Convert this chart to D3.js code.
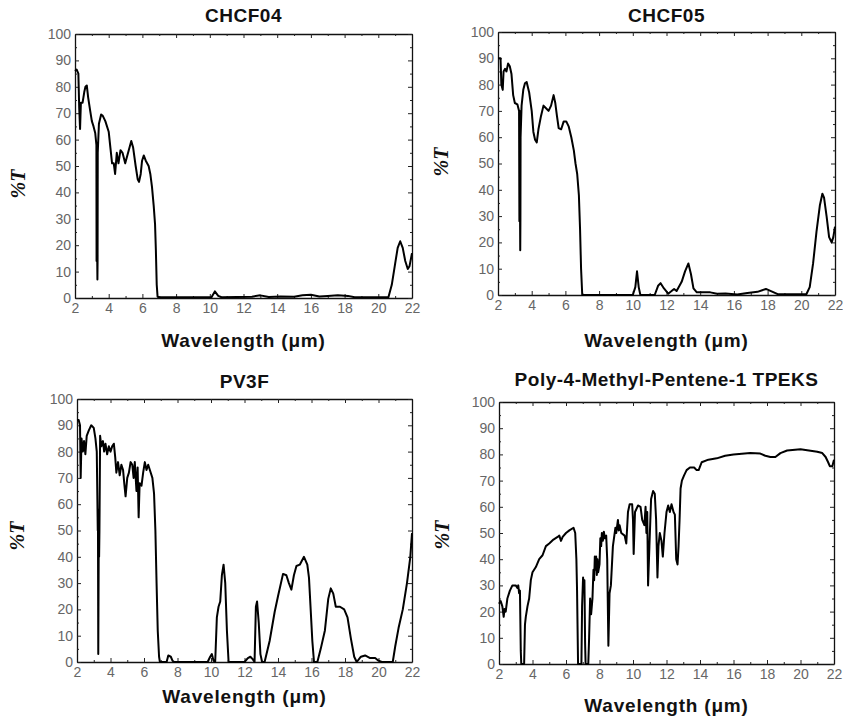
<!DOCTYPE html>
<html>
<head>
<meta charset="utf-8">
<script src="https://cdn.jsdelivr.net/npm/d3@7"></script>
<style>
  body { margin: 0; background: #fff; }
  #chart { width: 843px; height: 719px; }
</style>
</head>
<body>
<div id="chart"></div>
<script>
// tick values shared by every panel
const xTicks = [2, 4, 6, 8, 10, 12, 14, 16, 18, 20, 22];
const xMinor = d3.range(3, 22, 2);
const yTicks = [0, 10, 20, 30, 40, 50, 60, 70, 80, 90, 100];
const yMinor = d3.range(5, 100, 10);

const titles = ["CHCF04", "CHCF05", "PV3F", "Poly-4-Methyl-Pentene-1 TPEKS"];

// [wavelength (um), %T]
const chcf04 = [
  [2.0,86],[2.1,86.5],[2.2,85],[2.25,72],[2.3,64],[2.35,74],[2.45,74],[2.55,78],[2.62,80],[2.7,80.5],[2.78,76],
  [2.9,71],[3.0,67],[3.1,65],[3.2,62.5],[3.27,58],[3.28,14],[3.29,55],[3.3,15],[3.31,56],[3.32,14],[3.33,7],
  [3.34,14],[3.35,55],[3.42,66],[3.55,69.5],[3.65,69],
  [3.8,67],[4.0,63],[4.1,57],[4.2,51],[4.3,51],[4.38,47],[4.48,55],[4.58,51],[4.7,56],[4.82,55],[4.98,51],
  [5.15,55],[5.34,59.5],[5.45,57],[5.6,50],[5.72,45],[5.8,44],[5.9,47],[5.98,52],[6.08,54],[6.2,52],[6.37,50],
  [6.47,47],[6.57,42],[6.67,35],[6.75,28],[6.8,18],[6.85,5],[6.9,0.5],[7.0,0.3],[10.1,0.3],[10.3,2.5],[10.5,0.8],
  [10.7,0.3],[12.5,0.5],[13.0,1],[13.5,0.4],[14.2,0.6],[15.0,0.5],[15.5,1],[16.0,1.2],[16.5,0.6],[17.0,0.8],
  [17.6,1],[18.2,0.8],[18.6,0.3],[20.6,0.3],[20.8,5],[21.0,13],[21.15,19],[21.3,21.5],[21.45,19],[21.6,14],
  [21.75,11],[21.85,12],[22.0,17]
];

const chcf05 = [
  [2.0,90],[2.15,90],[2.2,80],[2.28,78],[2.33,85],[2.42,86],[2.5,85],[2.6,88],[2.7,87],[2.8,84],[2.9,76],
  [3.0,73],[3.15,72.5],[3.25,70],[3.27,28],[3.28,70],[3.29,28],[3.3,70],[3.31,28],[3.32,17],[3.33,28],
  [3.34,60],[3.4,72],[3.5,78],[3.6,80.5],[3.7,81],[3.85,77],
  [4.0,70],[4.1,62],[4.2,59],[4.3,58],[4.4,63],[4.55,68],[4.7,72],[4.85,71],[5.0,70],[5.15,72],[5.3,76],
  [5.4,73],[5.5,68],[5.6,63.5],[5.75,63],[5.9,66],[6.05,66],[6.2,64],[6.35,60],[6.5,55],[6.6,50],[6.7,46],
  [6.8,38],[6.87,25],[6.93,10],[7.0,0],[10.0,0],[10.15,3],[10.25,9],[10.35,3],[10.45,0],[11.3,0],[11.5,3.5],
  [11.65,4.5],[11.85,2.5],[12.1,0.5],[12.3,1.5],[12.45,2.3],[12.6,1.5],[12.9,5],[13.1,9],[13.3,12],[13.45,8],
  [13.6,2.5],[13.8,1],[14.6,1],[15.0,0.5],[15.5,0.6],[16.2,0.2],[16.8,0.8],[17.4,1.2],[17.9,2.3],[18.2,1.5],
  [18.6,0.3],[20.3,0.3],[20.5,3],[20.7,12],[20.9,24],[21.1,34],[21.25,38.5],[21.35,37],[21.5,30],[21.65,22],
  [21.8,20],[21.9,22],[22.0,26]
];

const pv3f = [
  [2.0,92],[2.1,92],[2.18,90],[2.22,70],[2.27,85],[2.35,80],[2.42,84],[2.5,79],[2.58,86],[2.7,88],[2.85,90],
  [3.0,89],[3.1,85],[3.18,80],[3.22,60],[3.24,50],[3.25,58],[3.27,3],[3.3,48],[3.32,40],[3.34,50],[3.38,86],
  [3.45,82],[3.55,84],[3.62,80],[3.7,83],
  [3.8,79],[3.9,82],[4.0,80],[4.1,82],[4.2,83],[4.28,78],[4.35,72],[4.45,76],[4.55,71],[4.65,75],[4.75,73],
  [4.82,68],[4.9,63],[5.0,70],[5.1,72],[5.2,76],[5.3,75],[5.38,70],[5.45,76],[5.55,65],[5.62,74],[5.68,55],
  [5.74,68],[5.85,67],[5.95,72],[6.05,76],[6.15,73],[6.25,75],[6.35,73],[6.5,70],[6.6,64],[6.68,50],[6.75,30],
  [6.82,12],[6.9,2],[6.95,0],[7.35,0],[7.45,2.5],[7.6,2],[7.7,0.5],[7.8,0],[9.8,0],[9.95,2],[10.05,3],
  [10.15,0.5],[10.25,0],[10.35,17],[10.45,21],[10.55,23],[10.65,33],[10.75,37],[10.85,30],[10.95,12],[11.05,0],
  [12.0,0],[12.2,1.5],[12.35,2],[12.5,1],[12.6,0],[12.68,21],[12.75,23],[12.85,15],[12.95,3],[13.05,0],
  [13.2,0],[13.5,8],[13.8,19],[14.0,25],[14.3,33.5],[14.5,33],[14.65,30],[14.8,27.5],[14.95,33],[15.1,36.5],
  [15.3,37],[15.55,40],[15.75,37],[15.85,32],[15.95,20],[16.05,8],[16.15,0],[16.35,0],[16.55,5],[16.8,12],
  [17.0,24],[17.15,28],[17.3,26],[17.45,21],[17.7,21],[17.95,20],[18.15,17],[18.35,9],[18.55,2],[18.7,0],
  [18.95,2],[19.2,2.5],[19.5,1.5],[19.8,1.5],[20.0,0.5],[20.2,0],[20.85,0],[21.0,6],[21.2,13],[21.45,20],
  [21.7,30],[21.9,40],[22.0,49]
];

const tpeks = [
  [2.0,23],[2.1,24],[2.2,22],[2.28,18],[2.33,21],[2.4,20],[2.5,25],[2.65,28],[2.8,30],[3.0,30],[3.1,29],
  [3.15,30],[3.2,27],[3.25,28],[3.3,5],[3.33,0],[3.5,0],[3.55,15],[3.6,18],[3.7,22],[3.8,25],[3.9,32],
  [4.0,35],[4.2,37],[4.4,40],[4.6,41.5],[4.8,45],[5.0,46],[5.25,47.5],[5.5,48.5],[5.6,49],[5.7,47],[5.8,48.5],
  [6.0,50],[6.2,51],[6.45,52],[6.55,50],[6.62,40],[6.66,28],[6.72,0],[6.92,0],[6.96,22],[7.02,33],[7.06,28],
  [7.1,32],[7.14,8],[7.17,0],[7.33,0],[7.38,10],[7.44,25],[7.5,19],[7.58,25],[7.64,36],[7.68,32],[7.72,41],
  [7.76,36],[7.8,41],[7.84,34],[7.88,40],[7.92,35],[8.0,38],[8.05,48],[8.1,45],[8.14,50],[8.2,47],[8.26,50.5],
  [8.32,48],[8.4,49],[8.46,40],[8.53,7],[8.6,27],[8.68,30],
  [8.8,45],[8.95,52],[9.0,50],[9.1,55],[9.15,51],[9.2,53],[9.3,50],[9.5,49],[9.6,46],[9.7,58],[9.8,61],
  [9.95,61],[10.0,55],[10.04,42],[10.12,58],[10.3,60.5],[10.45,60],[10.55,55],[10.68,53],[10.75,60],[10.8,50],
  [10.85,58],[10.9,30],[10.98,45],[11.08,63],[11.2,66],[11.3,65],[11.38,55],[11.46,33],[11.52,45],[11.6,50],
  [11.7,47],[11.78,41],[11.88,50],[12.0,58],[12.1,60.5],[12.2,58],[12.3,61],[12.42,58],[12.5,57],[12.58,40],
  [12.66,38],[12.72,45],[12.78,55],[12.84,67],[12.92,70],[13.05,72],[13.2,74],[13.4,75],[13.65,75],[13.8,74],
  [13.92,74],[14.1,77],[14.5,78],[15.0,78.5],[15.5,79.5],[16.0,80],[17.0,80.5],[17.6,80.3],[17.9,79.5],
  [18.2,79],[18.5,79],[18.8,80.5],[19.2,81.5],[20.0,82],[20.5,81.5],[21.0,81],[21.3,80.5],[21.5,79],
  [21.65,77],[21.75,75.5],[21.9,75.5],[22.0,78]
];

const series = [chcf04, chcf05, pv3f, tpeks];

// plot boxes of the four panels
const boxes = [
  { left: 75,  right: 412, top: 34,  bottom: 298, titleY: 22,  yLabX: 18,  yLabY: 184, xLabY: 347 },
  { left: 498, right: 835, top: 32,  bottom: 295, titleY: 22,  yLabX: 441, yLabY: 162, xLabY: 347 },
  { left: 77,  right: 412, top: 399, bottom: 662, titleY: 388, yLabX: 17,  yLabY: 536, xLabY: 703 },
  { left: 499, right: 834, top: 402, bottom: 664, titleY: 386, yLabX: 442, yLabY: 535, xLabY: 712 }
];

const sans = "'Liberation Sans', Arial, sans-serif";

const svg = d3.select("#chart")
  .append("svg")
  .attr("width", 843)
  .attr("height", 719)
  .style("background", "#fff");

boxes.forEach((b, i) => {
  const x = d3.scaleLinear().domain([2, 22]).range([b.left, b.right]);
  const y = d3.scaleLinear().domain([0, 100]).range([b.bottom, b.top]);
  const g = svg.append("g");

  const styleAxis = sel => {
    sel.select(".domain").attr("stroke", "#111").attr("stroke-width", 1.3);
    sel.selectAll(".tick line").attr("stroke", "#222").attr("stroke-width", 1);
    sel.selectAll("text")
      .style("font-family", sans)
      .style("font-size", "14px")
      .attr("fill", "#666");
  };

  // bottom
  g.append("g").attr("transform", `translate(0,${b.bottom})`)
    .call(d3.axisBottom(x).tickValues(xTicks).tickSize(-4).tickSizeOuter(0).tickPadding(5))
    .call(styleAxis);
  g.append("g").attr("transform", `translate(0,${b.bottom})`)
    .call(d3.axisBottom(x).tickValues(xMinor).tickSize(-2).tickSizeOuter(0).tickFormat(""))
    .call(s => s.select(".domain").remove())
    .call(styleAxis);
  // top
  g.append("g").attr("transform", `translate(0,${b.top})`)
    .call(d3.axisTop(x).tickValues(xTicks).tickSize(-4).tickSizeOuter(0).tickFormat(""))
    .call(styleAxis);
  g.append("g").attr("transform", `translate(0,${b.top})`)
    .call(d3.axisTop(x).tickValues(xMinor).tickSize(-2).tickSizeOuter(0).tickFormat(""))
    .call(s => s.select(".domain").remove())
    .call(styleAxis);
  // left
  g.append("g").attr("transform", `translate(${b.left},0)`)
    .call(d3.axisLeft(y).tickValues(yTicks).tickSize(-4).tickSizeOuter(0).tickPadding(4))
    .call(styleAxis);
  g.append("g").attr("transform", `translate(${b.left},0)`)
    .call(d3.axisLeft(y).tickValues(yMinor).tickSize(-2).tickSizeOuter(0).tickFormat(""))
    .call(s => s.select(".domain").remove())
    .call(styleAxis);
  // right
  g.append("g").attr("transform", `translate(${b.right},0)`)
    .call(d3.axisRight(y).tickValues(yTicks).tickSize(-4).tickSizeOuter(0).tickFormat(""))
    .call(styleAxis);
  g.append("g").attr("transform", `translate(${b.right},0)`)
    .call(d3.axisRight(y).tickValues(yMinor).tickSize(-2).tickSizeOuter(0).tickFormat(""))
    .call(s => s.select(".domain").remove())
    .call(styleAxis);

  const line = d3.line()
    .x(d => x(d[0]))
    .y(d => y(d[1]));

  g.append("path")
    .datum(series[i])
    .attr("d", line)
    .attr("fill", "none")
    .attr("stroke", "#000")
    .attr("stroke-width", 2)
    .attr("stroke-linejoin", "round");

  g.append("text")
    .attr("x", (b.left + b.right) / 2)
    .attr("y", b.titleY)
    .attr("text-anchor", "middle")
    .style("font-family", sans)
    .style("font-weight", "bold")
    .style("font-size", "19px")
    .style("letter-spacing", "0.5px")
    .attr("fill", "#111")
    .text(titles[i]);

  g.append("text")
    .attr("x", (b.left + b.right) / 2)
    .attr("y", b.xLabY)
    .attr("text-anchor", "middle")
    .style("font-family", sans)
    .style("font-weight", "bold")
    .style("font-size", "19px")
    .style("letter-spacing", "0.8px")
    .attr("fill", "#111")
    .text("Wavelength (\u03bcm)");

  g.append("text")
    .attr("transform", `translate(${b.yLabX},${b.yLabY}) rotate(-90)`)
    .attr("text-anchor", "middle")
    .attr("dy", "0.35em")
    .style("font-family", "'Liberation Serif', 'Times New Roman', serif")
    .style("font-weight", "bold")
    .style("font-style", "italic")
    .style("font-size", "20px")
    .attr("fill", "#111")
    .text("%T");
});
</script>
</body>
</html>
